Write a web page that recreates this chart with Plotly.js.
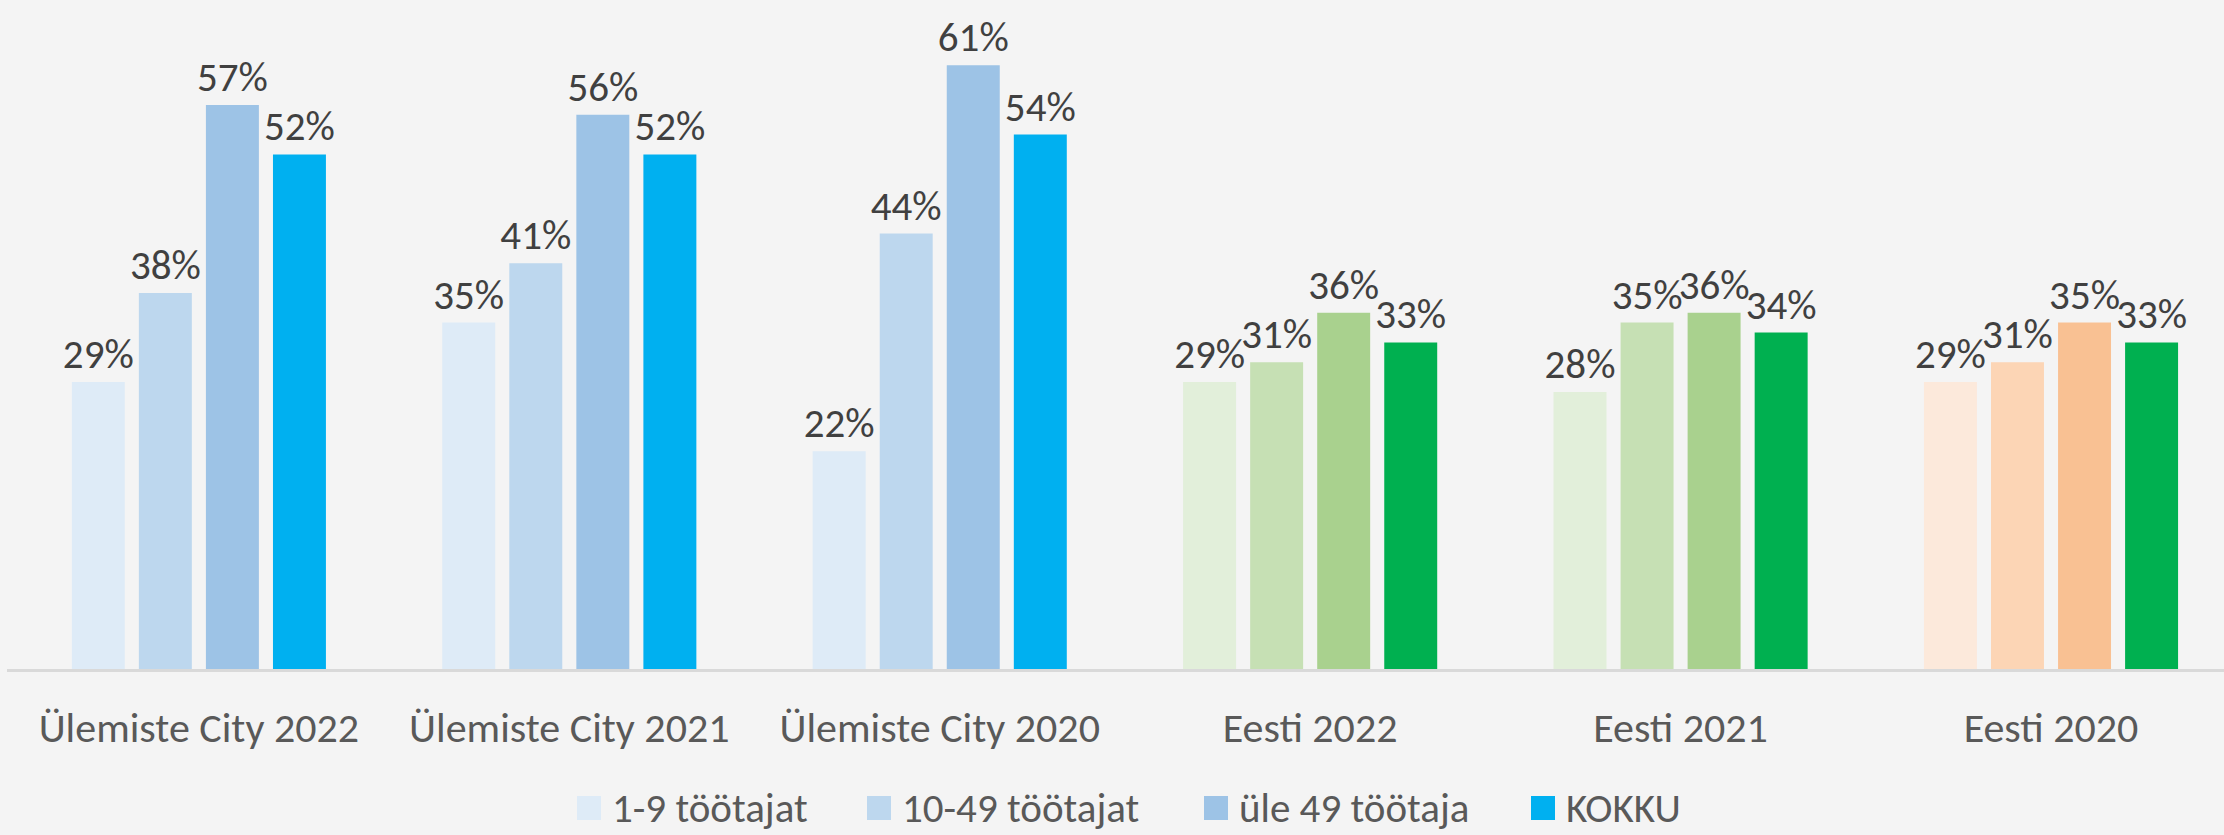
<!DOCTYPE html>
<html>
<head>
<meta charset="utf-8">
<script src="https://cdn.plot.ly/plotly-3.0.1.min.js"></script>
<style>html,body{margin:0;padding:0;background:#f4f4f4;}#chart{width:2224px;height:835px;}</style>
</head>
<body>
<div id="chart"></div>
<script>
const categories = ["Ülemiste City 2022", "Ülemiste City 2021", "Ülemiste City 2020", "Eesti 2022", "Eesti 2021", "Eesti 2020"];
const seriesNames = ["1-9 töötajat", "10-49 töötajat", "üle 49 töötaja", "KOKKU"];
const small = [0.29, 0.35, 0.22, 0.29, 0.28, 0.29];
const medium = [0.38, 0.41, 0.44, 0.31, 0.35, 0.31];
const large = [0.57, 0.56, 0.61, 0.36, 0.36, 0.35];
const total = [0.52, 0.52, 0.54, 0.33, 0.34, 0.33];
const colorsSmall = ["#DEEBF7", "#DEEBF7", "#DEEBF7", "#E2EFDA", "#E2EFDA", "#FCE9DB"];
const colorsMedium = ["#BDD7EE", "#BDD7EE", "#BDD7EE", "#C6E0B4", "#C6E0B4", "#FCD5B5"];
const colorsLarge = ["#9DC3E6", "#9DC3E6", "#9DC3E6", "#A9D18E", "#A9D18E", "#F9C193"];
const colorsTotal = ["#00B0F0", "#00B0F0", "#00B0F0", "#00B050", "#00B050", "#00B050"];

const font = "Carlito, Calibri, Lato, sans-serif";
const values = [small, medium, large, total];
const colors = [colorsSmall, colorsMedium, colorsLarge, colorsTotal];

const data = values.map((v, i) => ({
  type: "bar",
  name: seriesNames[i],
  x: categories,
  y: v,
  marker: {color: colors[i]},
  text: v.map(d => Math.round(d * 100) + "%"),
  textposition: "outside",
  constraintext: "none",
  cliponaxis: false,
  textfont: {family: font, size: 41, color: "#404040"},
  hoverinfo: "none",
  showlegend: false
}));

// Manual legend (larger square swatches, as in the reference)
const W = 2224, H = 835, ML = 7, MB = 166;
const plotW = W - ML, plotH = H - MB;
const legendX = [577, 867, 1204, 1531];
const legendY = 808;
const px2x = p => (p - ML) / plotW;
const py2y = p => (plotH - p) / plotH;
const shapes = seriesNames.map((n, i) => ({
  type: "rect", xref: "paper", yref: "paper",
  x0: px2x(legendX[i]), x1: px2x(legendX[i] + 24),
  y0: py2y(legendY + 12), y1: py2y(legendY - 12),
  fillcolor: colors[i][0], line: {width: 0}
}));
const annotations = seriesNames.map((n, i) => ({
  text: n, xref: "paper", yref: "paper",
  x: px2x(legendX[i] + 33), y: py2y(legendY),
  xanchor: "left", yanchor: "middle", showarrow: false,
  font: {family: font, size: 41, color: "#595959"}
}));

const layout = {
  width: W, height: H,
  paper_bgcolor: "#f4f4f4", plot_bgcolor: "#f4f4f4",
  margin: {l: ML, r: 0, t: 0, b: MB},
  barmode: "group",
  bargap: 0.276, bargroupgap: 0.21,
  font: {family: font, color: "#595959"},
  xaxis: {
    type: "category", automargin: false,
    range: [-0.518, 5.467],
    showline: true, linecolor: "#d9d9d9", linewidth: 3,
    ticks: "", showgrid: false,
    tickfont: {family: font, size: 42, color: "#595959"},
    ticklabelstandoff: 20
  },
  yaxis: {range: [0, 0.676], visible: false, showgrid: false, zeroline: false, automargin: false},
  showlegend: false,
  shapes: shapes,
  annotations: annotations
};

Plotly.newPlot("chart", data, layout, {displayModeBar: false, staticPlot: true});
</script>
</body>
</html>
